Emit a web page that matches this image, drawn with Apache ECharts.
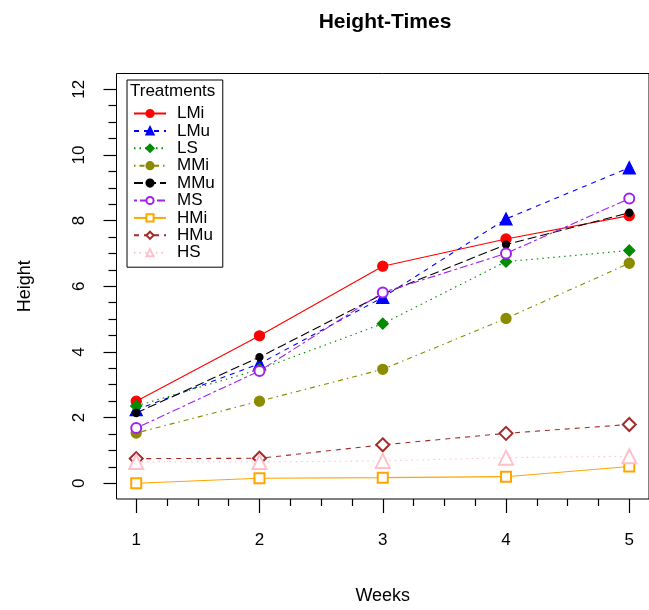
<!DOCTYPE html>
<html>
<head>
<meta charset="utf-8">
<script src="https://cdn.jsdelivr.net/npm/echarts@6/dist/echarts.min.js"></script>
<style>html,body{margin:0;padding:0;background:#fff}#c{width:649px;height:610px}</style>
</head>
<body>
<div id="c"></div>
<script>
// ---- data ----
var weeks = [1, 2, 3, 4, 5];
var LMi = [2.50, 4.49, 6.61, 7.44, 8.15];
var LMu = [2.24, 3.64, 5.66, 8.05, 9.61];
var LS  = [2.35, 3.47, 4.86, 6.75, 7.09];
var MMi = [1.53, 2.50, 3.47, 5.02, 6.70];
var MMu = [2.14, 3.84, 5.76, 7.27, 8.24];
var MS  = [1.68, 3.42, 5.81, 7.00, 8.67];
var HMi = [0.00, 0.15, 0.17, 0.20, 0.51];
var HMu = [0.75, 0.76, 1.17, 1.52, 1.79];
var HS  = [0.65, 0.65, 0.68, 0.78, 0.82];
var treatments = ['LMi','LMu','LS','MMi','MMu','MS','HMi','HMu','HS'];
var values = [LMi, LMu, LS, MMi, MMu, MS, HMi, HMu, HS];
var xTickLabels = [1, 2, 3, 4, 5];
var yTickLabels = [0, 2, 4, 6, 8, 10, 12];

// ---- styles ----
var colors = ['#FF0000','#0000FF','#008B00','#8B8B00','#000000','#A020F0','#FFA500','#A52A2A','#FFC0CB'];
var symbols = ['circle','triangle','diamond','circle','circle','emptyCircle','emptyRect','emptyDiamond','emptyTriangle'];
var sizes = [10, 12, 11, 10, 7, 10, 10, 13, 14];
var dashes = ['solid',[5,5],[1.5,4],[1.5,4,5,4],[9,4],[3,3,8,3],'solid',[5,5],[1.5,4]];

var series = treatments.map(function (name, i) {
  return {
    name: name,
    type: 'line',
    xAxisIndex: 2, yAxisIndex: 2,
    data: weeks.map(function (w, j) { return [w, values[i][j]]; }),
    symbol: symbols[i],
    symbolSize: sizes[i],
    showAllSymbol: true,
    color: colors[i],
    itemStyle: { color: colors[i], borderColor: colors[i], borderWidth: 1.3 },
    lineStyle: { color: colors[i], width: 1.1, type: dashes[i] },
    emphasis: { disabled: true },
    animation: false,
    z: 3
  };
});

var xMinor = [], yMinor = [];
for (var t = 1; t <= 5.0001; t += 0.25) { if (Math.abs(t - Math.round(t)) > 1e-6) xMinor.push(+t.toFixed(2)); }
for (var v = 0; v <= 12.0001; v += 0.5) { if (Math.abs(v / 2 - Math.round(v / 2)) > 1e-6) yMinor.push(+v.toFixed(2)); }

var font = '"Liberation Sans", Arial, sans-serif';
var XMIN = 0.84, XMAX = 5.16, YMIN = -0.48, YMAX = 12.48;

function tickAxis(pos, mn, mx, vals, len) {
  return {
    type: 'value', min: mn, max: mx, position: pos,
    axisLine: { show: false, onZero: false },
    axisTick: { show: true, customValues: vals, length: len, lineStyle: { color: '#000', width: 1.2 } },
    axisLabel: { show: false },
    splitLine: { show: false }
  };
}

var chart = echarts.init(document.getElementById('c'), null, { renderer: 'canvas' });
chart.setOption({
  animation: false,
  backgroundColor: '#fff',
  title: {
    text: 'Height-Times',
    left: 380, top: 7, textAlign: 'center',
    textStyle: { fontFamily: font, fontSize: 21, fontWeight: 'bold', color: '#000' }
  },
  grid: { left: 116.5, top: 73.5, right: -8, bottom: 111, show: true, borderColor: '#000', borderWidth: 1, backgroundColor: 'transparent' },
  legend: {
    orient: 'vertical',
    left: 127, top: 80,
    padding: [25, 8, 6, 6],
    itemWidth: 32, itemHeight: 9, itemGap: 0.4,
    borderColor: '#000', borderWidth: 1,
    backgroundColor: '#fff',
    textStyle: { fontFamily: font, fontSize: 17, lineHeight: 15.1, color: '#000', padding: [0, 0, 0, 6] },
    data: treatments,
    selectedMode: false
  },
  graphic: [{
    type: 'text', left: 130, top: 83, z: 100,
    style: { text: 'Treatments', font: '17px ' + font, fill: '#000' }
  }],
  xAxis: [
    tickAxis('bottom', XMIN, XMAX, xTickLabels, 14),
    tickAxis('bottom', XMIN, XMAX, xMinor, 7),
    {
      type: 'value', min: XMIN, max: XMAX, position: 'bottom',
      name: 'Weeks', nameLocation: 'middle', nameGap: 88,
      nameTextStyle: { fontFamily: font, fontSize: 18, color: '#000' },
      axisLine: { show: false, onZero: false },
      axisTick: { show: false },
      axisLabel: { customValues: xTickLabels, margin: 33, fontFamily: font, fontSize: 17, color: '#000' },
      splitLine: { show: false }
    }
  ],
  yAxis: [
    tickAxis('left', YMIN, YMAX, yTickLabels, 13),
    tickAxis('left', YMIN, YMAX, yMinor, 8),
    {
      type: 'value', min: YMIN, max: YMAX, position: 'left',
      name: 'Height', nameLocation: 'middle', nameGap: 82,
      nameTextStyle: { fontFamily: font, fontSize: 18, color: '#000' },
      axisLine: { show: false, onZero: false },
      axisTick: { show: false },
      axisLabel: { customValues: yTickLabels, rotate: 90, margin: 29, fontFamily: font, fontSize: 17, color: '#000' },
      splitLine: { show: false }
    }
  ],
  series: series
});
</script>
</body>
</html>
